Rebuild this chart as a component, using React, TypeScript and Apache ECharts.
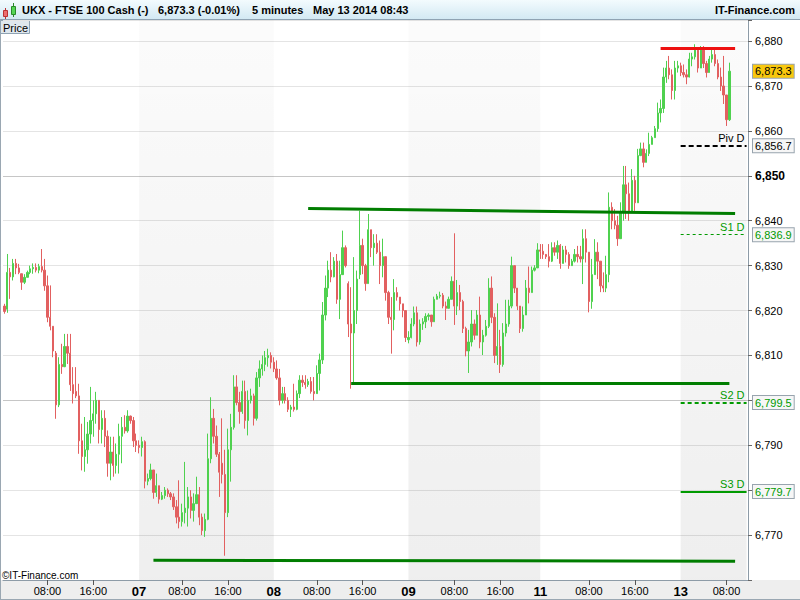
import React, { useEffect, useRef } from "react";
import * as echarts from "echarts";

// ---------- timeline: 30-minute slots per trading session ----------
const sessions = [
  { day: "06", label: "", start: "00:30", slots: 47 },
  { day: "07", label: "07", start: "00:30", slots: 47 },
  { day: "08", label: "08", start: "00:30", slots: 47 },
  { day: "09", label: "09", start: "00:00", slots: 46 },
  { day: "11", label: "11", start: "23:00", slots: 2 },
  { day: "12", label: "", start: "00:30", slots: 47 },
  { day: "13", label: "13", start: "00:00", slots: 24 },
];
const timeTickLabels = ["08:00", "16:00"];
const shadedDays = ["07", "09", "13"];

// ---------- candles: [open, high, low, close] ----------
const ohlc: number[][] = [
  [6821, 6821.5, 6819.3, 6819.8], [6820.3, 6832.6, 6819.5, 6828.5], [6828.5, 6829.5, 6822.6, 6827.5], [6827.5, 6831.5, 6826.7, 6830.5],
  [6830.5, 6831.5, 6828.1, 6829.5], [6829.5, 6830.4, 6828.1, 6828.5], [6828.2, 6828.2, 6824.6, 6826.3], [6826.3, 6828.1, 6825.9, 6827.4],
  [6827.4, 6828.9, 6827.4, 6828.5], [6828.5, 6830, 6828.1, 6829.3], [6829.3, 6830.5, 6828.2, 6829.6], [6829.6, 6830.5, 6828.5, 6829],
  [6829, 6830.4, 6828.3, 6829.8], [6829.8, 6833.7, 6828.5, 6829], [6829, 6831.5, 6824.4, 6825.5], [6825.5, 6827.8, 6817.4, 6818.5],
  [6818.5, 6825.6, 6815.6, 6816.5], [6816.5, 6816.5, 6809.6, 6811], [6810.5, 6811, 6795.9, 6799], [6799, 6809.6, 6798.5, 6808],
  [6808, 6812.6, 6805.9, 6807.5], [6807.5, 6814.8, 6807.4, 6812], [6812, 6814.8, 6808.1, 6810.5], [6810.5, 6814.8, 6802.1, 6803.5],
  [6803.5, 6807.4, 6799.3, 6801.5], [6802, 6807.4, 6800.5, 6801], [6801, 6803.7, 6788.1, 6791], [6791, 6794.8, 6784.4, 6787.5],
  [6787.5, 6796.3, 6784.1, 6789], [6789, 6795.2, 6785.9, 6792.5], [6792.5, 6803, 6790.4, 6795.5], [6795.5, 6800, 6791.9, 6797],
  [6797, 6801.9, 6794.8, 6800], [6800, 6800, 6790.4, 6793.5], [6793.5, 6797.8, 6790.4, 6796], [6796, 6797.8, 6789.6, 6792],
  [6792, 6793.3, 6783, 6786], [6786, 6791.9, 6782.2, 6788.5], [6788.5, 6791.9, 6783, 6785.5], [6785.5, 6790.4, 6783.7, 6788],
  [6788, 6794.8, 6783.7, 6792], [6792, 6796.3, 6786, 6794], [6794, 6796.7, 6792.6, 6793.2], [6793.2, 6797.8, 6792.8, 6796.5],
  [6796.5, 6796.6, 6794.8, 6795.5], [6795.5, 6796.3, 6789.6, 6791], [6791, 6792.6, 6788.5, 6790],
  // 07
  [6790, 6791.1, 6788.2, 6789.5], [6789.5, 6791.9, 6787.5, 6790.8], [6790.8, 6791.1, 6780.4, 6782], [6782, 6783.7, 6781.1, 6782.6],
  [6782.6, 6785.9, 6782.2, 6784.5], [6784.5, 6784.5, 6778.1, 6779.5], [6779.5, 6783.7, 6778.5, 6781], [6781, 6781, 6777, 6778],
  [6778, 6779.6, 6777.8, 6778.8], [6778.8, 6780.7, 6778.1, 6780], [6780, 6780.4, 6778.5, 6779.2], [6779.2, 6779.6, 6777.8, 6778.5],
  [6778.5, 6779.3, 6775.6, 6776.3], [6776.3, 6777.8, 6772.6, 6774], [6774, 6782.2, 6771.5, 6773], [6773, 6777, 6771.9, 6775],
  [6775, 6786.3, 6772.6, 6776], [6776, 6780.7, 6771.9, 6778.5], [6778.5, 6780, 6773.7, 6775.5], [6775.5, 6779.3, 6773, 6777],
  [6777, 6783, 6777, 6779], [6779, 6780.7, 6772.2, 6774], [6774, 6774.8, 6770, 6771], [6771, 6774.8, 6769.6, 6773.5],
  [6773.5, 6792.6, 6773.3, 6787], [6787, 6800.7, 6786, 6796], [6796, 6798.1, 6790.4, 6792], [6792, 6794.4, 6787.4, 6788],
  [6788, 6788.5, 6778.5, 6784], [6786, 6796, 6781.5, 6783.5], [6783.5, 6789, 6765.4, 6775], [6775, 6793.7, 6774, 6789],
  [6789, 6797, 6781.9, 6794], [6794, 6805.6, 6793.5, 6803], [6803, 6805.6, 6798.9, 6799.5], [6799.5, 6801.9, 6794.8, 6797.5],
  [6797.5, 6804.4, 6797, 6802], [6802, 6804.4, 6793.7, 6795.5], [6795.5, 6802.2, 6792.2, 6800], [6800, 6802.6, 6799.3, 6801],
  [6801, 6801.5, 6794.4, 6796], [6796, 6806.3, 6795.5, 6805], [6805, 6808.9, 6803, 6807], [6807, 6810, 6805.5, 6808],
  [6808, 6811, 6806.5, 6809.5], [6809.5, 6811.5, 6807.5, 6810], [6810, 6810.7, 6807.1, 6808.5],
  // 08
  [6808.5, 6809.6, 6806.3, 6807], [6807, 6808.9, 6804.6, 6805], [6805, 6807, 6798.9, 6800], [6800, 6803, 6799.3, 6801.5],
  [6801.5, 6803, 6799.3, 6800], [6800, 6800.7, 6797.4, 6798], [6798, 6799, 6796.3, 6798.5], [6798.5, 6803.7, 6797.5, 6798],
  [6798, 6802.2, 6797.8, 6801.5], [6801.5, 6805.6, 6800.5, 6804.5], [6804.5, 6805.6, 6803, 6804], [6804, 6805.6, 6802.6, 6803.5],
  [6803.5, 6804.8, 6803, 6804.2], [6804.2, 6805.2, 6801.5, 6802], [6802, 6805.2, 6800, 6801.5], [6801.5, 6807.8, 6801.5, 6806],
  [6806, 6810.4, 6802.2, 6809], [6809, 6821.9, 6808.1, 6819], [6819, 6827.8, 6817.8, 6825], [6825, 6831.1, 6823, 6829],
  [6829, 6833, 6826.3, 6827.5], [6827.5, 6831.9, 6827.4, 6831], [6831, 6832.6, 6821.5, 6822.5], [6822.5, 6831.1, 6818.1, 6828],
  [6828, 6837.8, 6828, 6834], [6834, 6834.5, 6829.6, 6830], [6826, 6826.5, 6814.1, 6817], [6817, 6825.2, 6802.6, 6815],
  [6815, 6831.9, 6803.5, 6820], [6820, 6828.9, 6817, 6827], [6828, 6842.2, 6827, 6834.5], [6834.5, 6836, 6828.1, 6830],
  [6830, 6830.4, 6824.4, 6826], [6826, 6841.5, 6826, 6838], [6838, 6838, 6831.9, 6834], [6834, 6837, 6830, 6835],
  [6835, 6837, 6832.6, 6833], [6833, 6835.6, 6825.9, 6830], [6830, 6836, 6827.4, 6832], [6832, 6832, 6822.2, 6824],
  [6824, 6824.4, 6817, 6818.5], [6818.5, 6823, 6810.4, 6818], [6818, 6827, 6815.6, 6824], [6824, 6825.2, 6822.2, 6823],
  [6823, 6823, 6820, 6821.5], [6821.5, 6821.5, 6818.5, 6820], [6820, 6820, 6813, 6814],
  // 09
  [6813.5, 6815.4, 6812.7, 6814], [6814, 6818.3, 6813.8, 6817], [6817, 6820.9, 6816.5, 6819.5], [6819.5, 6820.9, 6812, 6813],
  [6813, 6818, 6812.4, 6817], [6817, 6818.3, 6815.7, 6817.5], [6817.5, 6819.4, 6816.1, 6818.7], [6818.7, 6819.4, 6817.8, 6819],
  [6819, 6819, 6816.4, 6817.5], [6817.5, 6823.1, 6817.5, 6822.5], [6822.5, 6823.7, 6822.5, 6823.2], [6823.2, 6824.2, 6822.7, 6823.4],
  [6823.4, 6823.9, 6820.5, 6821], [6821, 6822, 6817.9, 6820.5], [6820.5, 6823.1, 6820.5, 6822.5], [6822.5, 6827.6, 6822.5, 6826.5],
  [6826.5, 6837.2, 6816.8, 6821], [6821, 6826.8, 6819, 6824], [6824, 6825.7, 6820.1, 6822], [6822, 6822.4, 6815, 6816],
  [6816, 6816.4, 6809.8, 6811], [6811, 6815.7, 6806.1, 6813], [6813, 6820.1, 6812, 6817], [6817, 6818, 6813.5, 6814.5],
  [6814.5, 6820.1, 6814.5, 6819], [6819, 6823.1, 6811.6, 6813], [6813, 6815.7, 6810.1, 6814.5], [6814.5, 6817.9, 6814.2, 6816.5],
  [6816.5, 6827.2, 6816.1, 6825], [6825, 6827.6, 6817.2, 6818.5], [6818.5, 6819.4, 6808.3, 6810], [6810, 6821.6, 6807.9, 6812],
  [6812, 6815.7, 6806.1, 6808], [6808, 6817.2, 6807.5, 6815], [6815, 6822.4, 6814.2, 6817], [6817, 6822.4, 6816.4, 6821],
  [6821, 6832, 6820.5, 6830], [6830, 6830, 6823.9, 6825], [6825, 6825, 6820.1, 6821], [6821, 6821, 6815, 6816],
  [6816, 6820.9, 6815.3, 6819], [6819, 6826.8, 6819, 6825], [6825, 6829.8, 6821.6, 6824], [6824, 6829.8, 6824, 6829],
  [6829, 6830.1, 6828.7, 6829.5], [6829.5, 6835, 6829.5, 6833.5],
  // 11 / 12
  [6833.5, 6834.8, 6831.5, 6833.2], [6833.2, 6834.8, 6831.5, 6832.5], [6832.5, 6832.6, 6831.5, 6832], [6832, 6834.8, 6829.6, 6831],
  [6831, 6835.2, 6830.8, 6834], [6834, 6835.2, 6832.2, 6833], [6833, 6835.6, 6831.5, 6834.5], [6834.5, 6834.8, 6829.3, 6830.5],
  [6830.5, 6834.4, 6830.5, 6833.5], [6833.5, 6834.4, 6830.7, 6832.5], [6832.5, 6833, 6829.3, 6830], [6830, 6831.5, 6830, 6831],
  [6831, 6833.7, 6830.7, 6832.5], [6832.5, 6834.4, 6830.7, 6832], [6832, 6834.4, 6830.7, 6831.5], [6831.5, 6838.1, 6825.9, 6836],
  [6836, 6838.1, 6830.7, 6833], [6833, 6833, 6819.6, 6822], [6822, 6831.5, 6820.4, 6828], [6828, 6835.9, 6828, 6833],
  [6833, 6835.2, 6827, 6831], [6831, 6831, 6824.1, 6825.5], [6825.5, 6828.5, 6824.1, 6825], [6825, 6832.2, 6824.1, 6828],
  [6828, 6846.3, 6826.3, 6843], [6843, 6844.1, 6838.1, 6840], [6840, 6842.6, 6838.1, 6839], [6839, 6841.1, 6834.4, 6836],
  [6836, 6844.1, 6836, 6842], [6842, 6852.2, 6840, 6848], [6848, 6852.2, 6840.4, 6846], [6846, 6848.5, 6840, 6842],
  [6842, 6851.5, 6842, 6849], [6849, 6850, 6842.2, 6844], [6844, 6856, 6844, 6854.5], [6854.5, 6857.4, 6854.4, 6856],
  [6856, 6857.4, 6851.9, 6853], [6853, 6855.9, 6853, 6855], [6855, 6859.6, 6854.4, 6857], [6857, 6858.9, 6857, 6858.5],
  [6858.5, 6861.1, 6858.5, 6860.5], [6860.5, 6866.3, 6859.8, 6864], [6864, 6867, 6861.9, 6865], [6865, 6874.1, 6864, 6872],
  [6872, 6875.6, 6870.7, 6874], [6874, 6876.7, 6871.5, 6872.5], [6872.5, 6873.7, 6867, 6869], [6869, 6875.6, 6867, 6874],
  [6874, 6875.6, 6873, 6874.5],
  // 13
  [6874.5, 6875.2, 6872.2, 6873], [6873, 6874.8, 6871.9, 6872.5], [6872.5, 6873.7, 6870.4, 6872], [6872, 6877.4, 6871.9, 6876],
  [6876, 6877.4, 6874.4, 6876.5], [6876.5, 6879.3, 6875.9, 6878], [6878, 6878, 6873, 6874], [6874, 6878.9, 6874, 6878],
  [6878, 6878.9, 6874, 6875], [6875, 6875.6, 6871.9, 6873], [6873, 6876.7, 6873, 6876], [6876, 6878.1, 6875.2, 6877],
  [6877, 6878.1, 6874.4, 6875], [6875, 6875.9, 6871.5, 6872], [6872, 6874.1, 6868.9, 6870], [6870, 6876.7, 6866, 6868],
  [6868, 6868, 6861.1, 6862.5], [6862.5, 6875.2, 6862.2, 6873.3],
];

// ---------- price axis ----------
const priceMin = 6760;
const priceMax = 6884.7;
const priceStep = 10;
const boldPrices = [6850];
const hiddenPrices = [6760, 6780, 6800];

// ---------- drawn trend lines: [slot, price] ----------
const trendFrom: [string, number][] = [["08 06:30", 6842.7], ["08 14:00", 6803.8], ["07 03:00", 6764.4], ["12 20:30", 6878.4]];
const trendTo: [string, number][] = [["13 09:30", 6841.6], ["13 08:30", 6803.8], ["13 09:30", 6764.2], ["13 09:30", 6878.4]];

// ---------- daily pivot levels ----------
const levelNames = ["Piv D", "S1 D", "S2 D", "S3 D"];
const levelValues = [6856.7, 6836.9, 6799.5, 6779.7];
const levelDay = "13";

// ---------- header texts ----------
const instrument = "UKX - FTSE 100 Cash (-)";
const changeText = "(-0.01%)";
const periodText = "5 minutes";
const dateText = "May 13 2014 08:43";
const brand = "IT-Finance.com";
const copyright = "\u00A9IT-Finance.com";
const paneName = "Price";

// ================= build =================
const FONT = '"Liberation Sans", Arial, Helvetica, sans-serif';
const UP = "#4fd14f";
const DOWN = "#e26060";
const GREEN = "#009a00";

function fmt(v: number, d: number): string {
  const s = v.toFixed(d);
  const [i, f] = s.split(".");
  const withComma = i.replace(/\B(?=(\d{3})+(?!\d))/g, ",");
  return f ? withComma + "." + f : withComma;
}
function toMin(s: string) {
  const [h, m] = s.split(":").map(Number);
  return h * 60 + m;
}
function hhmm(min: number) {
  const h = Math.floor(min / 60) % 24;
  const m = min % 60;
  return String(h).padStart(2, "0") + ":" + String(m).padStart(2, "0");
}

const categories: string[] = [];
const axisText: Record<string, string> = {};
const isDay: Record<string, boolean> = {};
const sessionStart: Record<string, string> = {};
sessions.forEach((s) => {
  for (let k = 0; k < s.slots; k++) {
    const t = hhmm(toMin(s.start) + 30 * k);
    const cat = `${s.day} ${t}`;
    categories.push(cat);
    if (k === 0) sessionStart[s.day] = cat;
    if (k === 0 && s.label) {
      axisText[cat] = s.label;
      isDay[cat] = true;
    } else if (timeTickLabels.includes(t)) {
      axisText[cat] = t;
    }
  }
});
const lastCat = categories[categories.length - 1];
function nextStart(day: string) {
  const idx = sessions.findIndex((s) => s.day === day);
  return idx + 1 < sessions.length ? sessionStart[sessions[idx + 1].day] : lastCat;
}

const candleData = ohlc.map(([o, h, l, c]) => [o, c, Math.min(l, o, c), Math.max(h, o, c)]);
const lastPrice = ohlc[ohlc.length - 1][3];

const trendColors = ["#007d00", "#007d00", "#007d00", "#ee1111"];
const levelStyles = [
  { color: "#000000", width: 2, type: [5, 3] },
  { color: GREEN, width: 1, type: [3, 3] },
  { color: GREEN, width: 2, type: [4, 3] },
  { color: GREEN, width: 2, type: "solid" },
];
const levelTextColors = ["#000000", GREEN, GREEN, GREEN];

const bandFill = new echarts.graphic.LinearGradient(0, 0, 0, 1, [
  { offset: 0, color: "rgba(0,0,0,0.015)" },
  { offset: 1, color: "rgba(0,0,0,0.065)" },
]);

const tagBase = {
  show: true,
  position: "end",
  distance: 5,
  fontSize: 11,
  fontFamily: FONT,
  lineHeight: 12,
  padding: [1, 2, 0, 2],
  borderWidth: 1,
  borderColor: "#98a4ae",
  opacity: 1,
};
const hiddenLine = { color: "rgba(0,0,0,0)", width: 1, type: "solid" };

const markLineData: any[] = [
  ...trendFrom.map((f, i) => [
    { coord: f, lineStyle: { color: trendColors[i], width: 3, type: "solid" }, label: { show: false } },
    { coord: trendTo[i] },
  ]),
  ...levelValues.map((v, i) => [
    {
      coord: [sessionStart[levelDay], v],
      lineStyle: { ...levelStyles[i] },
      label: {
        show: true,
        position: "insideEndTop",
        formatter: levelNames[i],
        color: levelTextColors[i],
        fontSize: 11,
        fontFamily: FONT,
        distance: 2,
      },
    },
    { coord: [lastCat, v] },
  ]),
  {
    yAxis: lastPrice,
    lineStyle: hiddenLine,
    label: { ...tagBase, formatter: fmt(lastPrice, 1), color: "#000", backgroundColor: "#f9c80e" },
  },
  ...levelValues.map((v, i) => ({
    yAxis: v,
    lineStyle: hiddenLine,
    label: { ...tagBase, formatter: fmt(v, 1), color: levelTextColors[i], backgroundColor: "#f6f6f6" },
  })),
];

const bands = shadedDays.map((d) => [{ xAxis: sessionStart[d] }, { xAxis: nextStart(d) }]);

const headerGradient = new echarts.graphic.LinearGradient(0, 0, 0, 1, [
  { offset: 0, color: "#f3fbfe" },
  { offset: 1, color: "#d3e9f3" },
]);

const headerText = (text: string, x: number, align = "left") => ({
  type: "text",
  x,
  y: 10,
  style: { text, fontFamily: FONT, fontSize: 11, fontWeight: "bold", fill: "#000", align, verticalAlign: "middle" },
});

const option: any = {
  animation: false,
  textStyle: { fontFamily: FONT },
  grid: { left: 3, right: 52, top: 20, bottom: 20 },
  xAxis: {
    type: "category",
    data: categories,
    boundaryGap: true,
    axisLine: { show: true, lineStyle: { color: "#8d9ba7" } },
    axisTick: {
      show: true,
      alignWithLabel: true,
      length: 5,
      interval: (_i: number, v: string) => axisText[v] !== undefined && !isDay[v],
      lineStyle: { color: "#555" },
    },
    axisLabel: {
      show: true,
      interval: (_i: number, v: string) => axisText[v] !== undefined,
      margin: 5,
      fontSize: 11,
      color: "#000",
      fontFamily: FONT,
      formatter: (v: string) => (isDay[v] ? `{d|${axisText[v]}}` : axisText[v] || ""),
      rich: { d: { fontWeight: "bold", fontSize: 13, color: "#000", fontFamily: FONT } },
    },
    splitLine: { show: false },
  },
  yAxis: {
    type: "value",
    position: "right",
    min: priceMin,
    max: priceMax,
    interval: priceStep,
    axisLine: { show: true, lineStyle: { color: "#8d9ba7" } },
    axisTick: { show: true, length: 4, lineStyle: { color: "#666" } },
    axisLabel: {
      margin: 7,
      fontSize: 11,
      color: "#000",
      fontFamily: FONT,
      formatter: (v: number) => {
        const r = Math.round(v * 10) / 10;
        if (Math.abs(r / priceStep - Math.round(r / priceStep)) > 1e-6) return "";
        if (hiddenPrices.includes(r)) return "";
        const s = fmt(r, 0);
        return boldPrices.includes(r) ? `{b|${s}}` : s;
      },
      rich: { b: { fontWeight: "bold", fontSize: 12, color: "#000", fontFamily: FONT } },
    },
    splitLine: {
      show: true,
      lineStyle: { color: ["#e4e4e4", "#e4e4e4", "#e4e4e4", "#e4e4e4", "#c6c6c6"], width: 1 },
    },
  },
  series: [
    {
      type: "candlestick",
      data: candleData,
      barWidth: 1.8,
      itemStyle: { color: UP, color0: DOWN, borderColor: UP, borderColor0: DOWN, borderWidth: 1 },
      markArea: { silent: true, itemStyle: { color: bandFill }, data: bands },
      markLine: { silent: true, symbol: ["none", "none"], animation: false, data: markLineData },
    },
  ],
  graphic: [
    { type: "rect", shape: { x: 0, y: 0, width: 800, height: 19 }, style: { fill: headerGradient } },
    { type: "line", shape: { x1: 0, y1: 19.5, x2: 800, y2: 19.5 }, style: { stroke: "#8fa3b3", lineWidth: 1 } },
    { type: "line", shape: { x1: 0.5, y1: 19, x2: 0.5, y2: 600 }, style: { stroke: "#9aa7b2", lineWidth: 1 } },
    { type: "line", shape: { x1: 5.5, y1: 8, x2: 5.5, y2: 19 }, style: { stroke: "#b33", lineWidth: 1 } },
    { type: "rect", shape: { x: 3.5, y: 10.5, width: 4, height: 6 }, style: { fill: "#ec6f6f", stroke: "#b33", lineWidth: 1 } },
    { type: "line", shape: { x1: 13.5, y1: 3, x2: 13.5, y2: 17 }, style: { stroke: "#2a8a2a", lineWidth: 1 } },
    { type: "rect", shape: { x: 11.5, y: 6.5, width: 4, height: 8 }, style: { fill: "#55d655", stroke: "#2a8a2a", lineWidth: 1 } },
    headerText(instrument, 22),
    headerText(`${fmt(lastPrice, 1)} ${changeText}`, 158),
    headerText(periodText, 252),
    headerText(dateText, 313),
    headerText(brand, 795, "right"),
    { type: "rect", shape: { x: 0.5, y: 20.5, width: 29, height: 13 }, style: { fill: "#dfe7ed", stroke: "#8fa3b3", lineWidth: 1 } },
    {
      type: "text",
      x: 3,
      y: 27.5,
      style: { text: paneName, fontFamily: FONT, fontSize: 11, fill: "#000", verticalAlign: "middle" },
    },
    {
      type: "text",
      x: 2,
      y: 575,
      style: { text: copyright, fontFamily: FONT, fontSize: 10, fill: "#000", verticalAlign: "middle" },
    },
  ],
};

export default function App() {
  const ref = useRef<HTMLDivElement>(null);
  useEffect(() => {
    if (!ref.current) return;
    const chart = echarts.init(ref.current, undefined, { renderer: "svg" });
    chart.setOption(option);
    return () => chart.dispose();
  }, []);
  return (
    <div style={{ position: "fixed", left: 0, top: 0, width: 800, height: 600, background: "#ffffff", overflow: "hidden" }}>
      <div
        style={{
          position: "absolute",
          left: 0,
          top: 580,
          width: 800,
          height: 20,
          background: "#eeeeee",
          boxSizing: "border-box",
          borderBottom: "1px solid #9aa7b2",
        }}
      />
      <div ref={ref} style={{ position: "absolute", left: 0, top: 0, width: 800, height: 600 }} />
    </div>
  );
}
